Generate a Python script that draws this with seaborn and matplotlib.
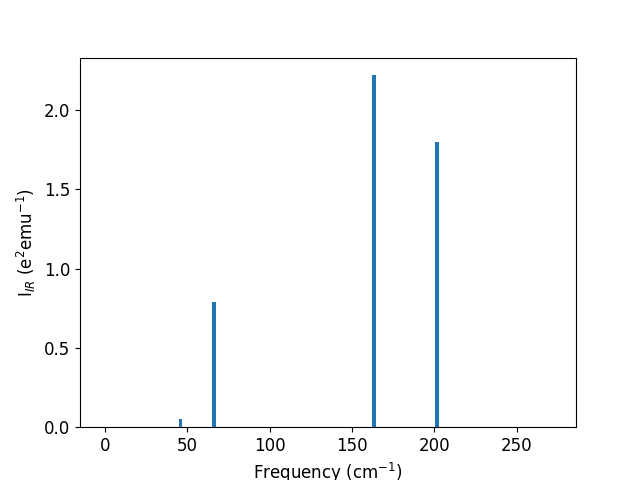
import numpy as np
import seaborn as sns
import matplotlib
matplotlib.use('Agg')
import matplotlib.pyplot as plt

# IR-active modes
freqs = [46.0, 66.3, 163.2, 201.4]
intensities = [0.05, 0.79, 2.22, 1.80]

bar_color = sns.color_palette('tab10')[0]

plt.rcParams['font.size'] = 12

fig, ax = plt.subplots(figsize=(6.4, 4.8), dpi=100)
ax.bar(freqs, intensities, width=2.4, color=bar_color)
ax.set_xlim(-15, 286)
ax.set_ylim(0, 2.33)
ax.set_xticks([0, 50, 100, 150, 200, 250])
ax.set_yticks([0.0, 0.5, 1.0, 1.5, 2.0])
ax.set_xlabel(r'Frequency (cm$^{-1}$)')
ax.set_ylabel(r'I$_{IR}$ (e$^{2}$emu$^{-1}$)')

fig.savefig('out.png', dpi=100)
